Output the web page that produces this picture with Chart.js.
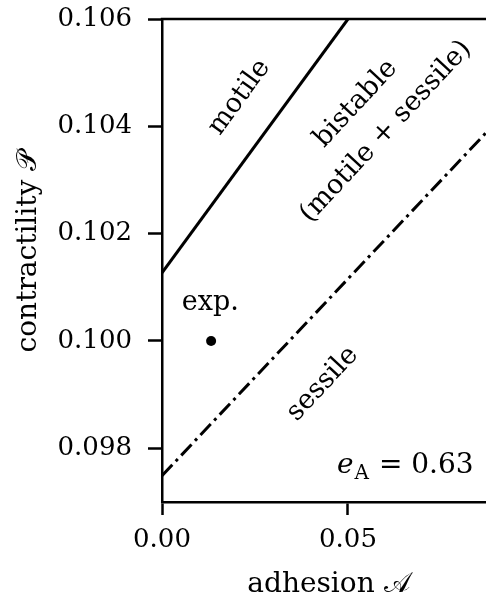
<!DOCTYPE html>
<html>
<head>
<meta charset="utf-8">
<script src="https://cdn.jsdelivr.net/npm/chart.js@4/dist/chart.umd.min.js"></script>
<style>
html,body{margin:0;padding:0;background:#fff;}
#wrap{width:486px;height:602px;position:relative;}
</style>
</head>
<body>
<div id="wrap"><canvas id="c" width="486" height="602"></canvas></div>
<script>
// ---- data ----
const motileBoundaryX = [0.0, 0.05];
const motileBoundaryY = [0.10127, 0.106];
const sessileBoundaryX = [0.0, 0.0871];
const sessileBoundaryY = [0.09749, 0.10388];
const expX = [0.0132];
const expY = [0.100];
const xTicks = [0.00, 0.05];
const yTicks = [0.098, 0.100, 0.102, 0.104, 0.106];
const xRange = [0.0, 0.0871];
const yRange = [0.097, 0.106];

const FONT = '"DejaVu Serif", serif';
const FS = 26;
const AFS = 27;

const annot = {
  id: 'annot',
  afterDraw(chart) {
    const ctx = chart.ctx, xs = chart.scales.x, ys = chart.scales.y, ca = chart.chartArea;
    ctx.save();
    // top border
    ctx.strokeStyle = '#000'; ctx.lineWidth = 2.5;
    ctx.beginPath(); ctx.moveTo(ca.left - 1.25, ca.top); ctx.lineTo(ca.right, ca.top); ctx.stroke();
    ctx.fillStyle = '#000';
    const rot = (txt, x, y, deg) => {
      ctx.save();
      ctx.translate(xs.getPixelForValue(x), ys.getPixelForValue(y));
      ctx.rotate(-deg * Math.PI / 180);
      ctx.font = AFS + 'px ' + FONT;
      ctx.textAlign = 'center'; ctx.textBaseline = 'middle';
      ctx.fillText(txt, 0, 0);
      ctx.restore();
    };
    rot('motile', 0.0208, 0.10454, 54);
    rot('bistable', 0.0521, 0.10442, 47);
    rot('(motile + sessile)', 0.0602, 0.10390, 47);
    rot('sessile', 0.0432, 0.0992, 47);
    rot('exp.', 0.0130, 0.10070, 0);
    // e_A = 0.63
    let px = 337, py = 473;
    ctx.textAlign = 'left'; ctx.textBaseline = 'alphabetic';
    ctx.font = 'italic 28px ' + FONT;
    ctx.fillText('e', px, py); px += ctx.measureText('e').width + 1;
    ctx.font = '20px ' + FONT;
    ctx.fillText('A', px, py + 6); px += ctx.measureText('A').width + 1;
    ctx.font = '28px ' + FONT;
    ctx.fillText(' = 0.63', px, py);
    ctx.restore();
  }
};

new Chart(document.getElementById('c'), {
  type: 'scatter',
  data: {
    datasets: [
      { data: motileBoundaryX.map((x, i) => ({x, y: motileBoundaryY[i]})), showLine: true,
        borderColor: '#000', borderWidth: 3, pointRadius: 0, fill: false },
      { data: sessileBoundaryX.map((x, i) => ({x, y: sessileBoundaryY[i]})), showLine: true,
        borderColor: '#000', borderWidth: 3, borderDash: [15, 5, 3, 5], pointRadius: 0, fill: false },
      { data: expX.map((x, i) => ({x, y: expY[i]})), pointRadius: 5, pointBackgroundColor: '#000',
        pointBorderWidth: 0, borderColor: '#000' }
    ]
  },
  options: {
    responsive: false, animation: false,
    layout: { autoPadding: false, padding: { top: 19, right: 0, left: 0, bottom: 0 } },
    plugins: { legend: { display: false }, tooltip: { enabled: false } },
    scales: {
      x: {
        type: 'linear', min: xRange[0], max: xRange[1],
        afterFit: s => { s.height = 100; s.paddingRight = 0; s.paddingLeft = 0; },
        afterBuildTicks: s => { s.ticks = xTicks.map(v => ({value: v})); },
        grid: { drawOnChartArea: false, drawTicks: true, tickLength: 13, tickWidth: 2.5, tickColor: '#000' },
        border: { display: true, color: '#000', width: 2.5 },
        ticks: { color: '#000', font: { family: FONT, size: FS }, padding: 10, maxRotation: 0,
          callback: v => Number(v).toFixed(2) },
        title: { display: true, text: ' adhesion 𝒜', color: '#000', font: { family: FONT, size: 28 },
          padding: { top: 0, bottom: 0 } }
      },
      y: {
        type: 'linear', min: yRange[0], max: yRange[1],
        afterFit: s => { s.width = 162; s.paddingTop = 0; s.paddingBottom = 0; },
        afterBuildTicks: s => { s.ticks = yTicks.map(v => ({value: v})); },
        grid: { drawOnChartArea: false, drawTicks: true, tickLength: 14, tickWidth: 2.5, tickColor: '#000' },
        border: { display: true, color: '#000', width: 2.5 },
        ticks: { color: '#000', font: { family: FONT, size: FS }, padding: 16,
          callback: v => Number(v).toFixed(3) },
        title: { display: true, text: '  contractility 𝒫', color: '#000', font: { family: FONT, size: 28 },
          padding: { top: 12, bottom: 0 } }
      }
    }
  },
  plugins: [annot]
});
</script>
</body>
</html>
